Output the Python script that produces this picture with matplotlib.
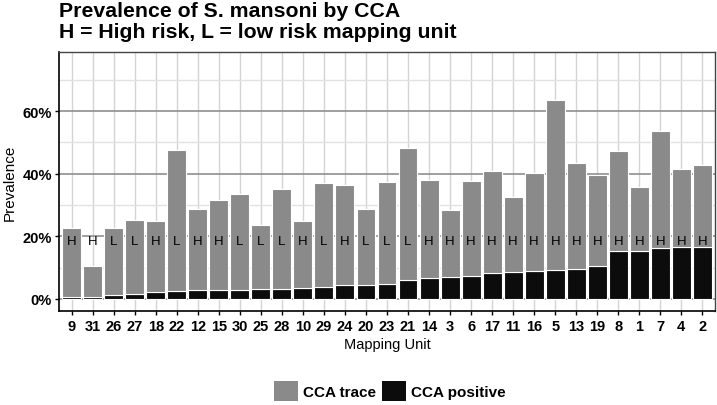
import numpy as np
import matplotlib
matplotlib.use("Agg")
import matplotlib.pyplot as plt
from matplotlib.patches import Patch
from matplotlib.ticker import MultipleLocator, FuncFormatter

plt.rcParams["font.family"] = ["Liberation Sans", "DejaVu Sans"]

# mapping units, ordered by CCA positive prevalence
units = ["9", "31", "26", "27", "18", "22", "12", "15", "30", "25", "28", "10", "29", "24", "20", "23",
         "21", "14", "3", "6", "17", "11", "16", "5", "13", "19", "8", "1", "7", "4", "2"]
risk = ["H", "H", "L", "L", "H", "L", "H", "H", "L", "L", "L", "H", "L", "H", "L", "L",
        "L", "H", "H", "H", "H", "H", "H", "H", "H", "H", "H", "H", "H", "H", "H"]
# prevalence (%)
positive = [0.5, 0.6, 1.2, 1.6, 2.1, 2.5, 2.7, 2.8, 3.0, 3.2, 3.2, 3.4, 3.8, 4.6, 4.6, 4.7,
            6.2, 6.8, 7.1, 7.4, 8.2, 8.6, 8.8, 9.3, 9.5, 10.5, 15.2, 15.3, 16.2, 16.5, 16.7]
total = [22.7, 10.6, 22.5, 25.3, 25.0, 47.5, 28.6, 31.7, 33.5, 23.5, 35.0, 24.9, 37.0, 36.4, 28.8, 37.2,
         48.1, 37.9, 28.4, 37.6, 40.8, 32.5, 40.1, 63.5, 43.4, 39.6, 47.3, 35.6, 53.6, 41.4, 42.8]
trace = [t - p for t, p in zip(total, positive)]

grey_col = "#8a8a8a"
black_col = "#0c0c0c"

fig = plt.figure(figsize=(7.17, 4.06), dpi=100)
ax = fig.add_axes([59 / 717, 1 - 311.7 / 406, (715 - 59) / 717, (311.7 - 53.3) / 406])

x = np.arange(len(units))
ax.bar(x, positive, width=0.9, color=black_col, edgecolor="white", linewidth=0.8, zorder=3)
ax.bar(x, trace, bottom=positive, width=0.9, color=grey_col, edgecolor="white", linewidth=0.8, zorder=3)

for xi, r in zip(x, risk):
    ax.text(xi, 18.4, r, ha="center", va="center", fontsize=9.5, color="black", zorder=4)

ax.set_xlim(-0.6, len(units) - 0.4)
ax.set_ylim(-3.75, 78.75)
ax.set_xticks(x)
ax.set_xticklabels(units, fontsize=10.5, fontweight="bold")
ax.yaxis.set_major_locator(MultipleLocator(20))
ax.yaxis.set_minor_locator(MultipleLocator(10))
ax.yaxis.set_major_formatter(FuncFormatter(lambda v, p: f"{v:.0f}%"))
for lab in ax.get_yticklabels():
    lab.set_fontweight("bold")
ax.tick_params(axis="y", which="major", labelsize=10.5, length=3, width=1, pad=2)
ax.tick_params(axis="y", which="minor", length=0)
ax.tick_params(axis="x", length=3, width=1, pad=3)

ax.grid(True, axis="y", which="major", color="#8f8f8f", lw=1.2, zorder=0)
ax.grid(True, axis="y", which="minor", color="#e2e2e2", lw=1.0, zorder=0)
ax.grid(True, axis="x", which="major", color="#d4d4d4", lw=1.0, zorder=0)
ax.set_axisbelow(True)

for side in ["left", "bottom"]:
    ax.spines[side].set_color("black")
    ax.spines[side].set_linewidth(1.2)
for side in ["top", "right"]:
    ax.spines[side].set_color("#444444")
    ax.spines[side].set_linewidth(1.0)

ax.set_ylabel("Prevalence", fontsize=11, labelpad=4)
ax.set_xlabel("Mapping Unit", fontsize=10.5, labelpad=3)

fig.text(59 / 717, 1 - 16.7 / 406, "Prevalence of S. mansoni by CCA",
         ha="left", va="baseline", fontsize=15.3, fontweight="bold")
fig.text(59 / 717, 1 - 37.7 / 406, "H = High risk, L = low risk mapping unit",
         ha="left", va="baseline", fontsize=15.3, fontweight="bold")

handles = [Patch(facecolor=grey_col, label="CCA trace"), Patch(facecolor=black_col, label="CCA positive")]
fig.legend(handles=handles, loc="center", bbox_to_anchor=(390 / 717, 1 - 392 / 406), ncol=2,
           frameon=False, prop={"weight": "bold", "size": 11}, handlelength=1.55, handleheight=1.55,
           handletextpad=0.35, columnspacing=0.4, borderaxespad=0)

fig.savefig("out.png", dpi=100)
